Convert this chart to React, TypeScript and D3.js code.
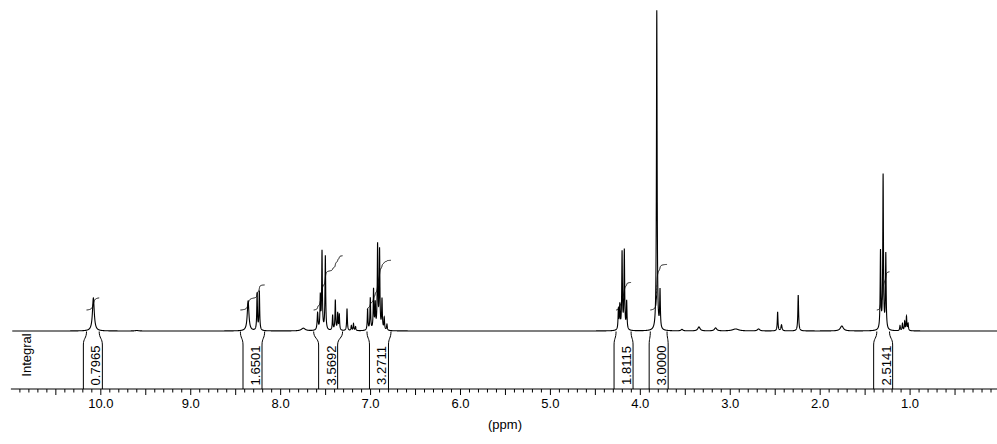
import React from "react";
import * as d3 from "d3";

// Peak list (ppm, relative height, half-width at half-height in ppm)
const peakPpm = [
  9.6,
  10.083,
  8.362, 8.262, 8.237,
  7.748,
  7.589, 7.559, 7.54, 7.503,
  7.422, 7.392, 7.366, 7.348,
  7.262,
  7.214, 7.19, 7.167,
  7.033, 7.003, 6.967, 6.948, 6.922, 6.9, 6.873, 6.848, 6.818,
  4.244, 4.228, 4.203, 4.178, 4.152,
  3.817, 3.781,
  3.537, 3.348, 3.163, 2.94, 2.685,
  2.473, 2.43, 2.244,
  1.759,
  1.329, 1.3, 1.27,
  1.112, 1.085, 1.06, 1.04, 1.022,
];
const peakHeight = [
  0.5,
  33,
  30, 37, 39,
  2.7,
  17, 33, 78, 74,
  15, 30, 17, 16,
  22,
  5, 7, 4,
  21, 32, 40, 25, 84, 79, 30, 12, 6,
  20, 24, 77, 79, 28,
  320, 38,
  1.5, 4, 3, 2, 2,
  19, 6, 36,
  5,
  78, 154, 75,
  5, 7, 9, 14, 7,
];
const peakHwhm = [
  0.02,
  0.012,
  0.011, 0.0045, 0.0045,
  0.025,
  0.006, 0.0045, 0.0045, 0.0045,
  0.0045, 0.0045, 0.0045, 0.0045,
  0.0045,
  0.0045, 0.0045, 0.0045,
  0.0045, 0.0045, 0.0045, 0.0045, 0.0045, 0.0045, 0.0045, 0.0045, 0.0045,
  0.0045, 0.0045, 0.0045, 0.0045, 0.0045,
  0.0045, 0.0045,
  0.012, 0.015, 0.015, 0.04, 0.015,
  0.0045, 0.007, 0.005,
  0.02,
  0.0045, 0.0045, 0.0045,
  0.0045, 0.0045, 0.0045, 0.0045, 0.0045,
];

// Integral regions
const integralStart = [10.159, 8.448, 7.633, 7.04, 4.27, 3.889, 1.37];
const integralEnd = [10.018, 8.178, 7.311, 6.773, 4.103, 3.703, 1.229];
const integralValues = [0.7965, 1.6501, 3.5692, 3.2711, 1.8115, 3.0, 2.5141];

// Axis
const tickValues = [10, 9, 8, 7, 6, 5, 4, 3, 2, 1];
const tickLabels = ["10.0", "9.0", "8.0", "7.0", "6.0", "5.0", "4.0", "3.0", "2.0", "1.0"];

const FONT = "'Liberation Sans', Arial, Helvetica, sans-serif";

function intensity(p: number): number {
  let s = 0;
  for (let i = 0; i < peakPpm.length; i++) {
    const d = (p - peakPpm[i]) / peakHwhm[i];
    s += peakHeight[i] / (1 + d * d);
  }
  return s;
}

export default function App() {
  const W = 997;
  const H = 444;
  const x = d3.scaleLinear().domain([11, 0]).range([10.9, 1000]);
  const y = d3.scaleLinear().domain([0, 321]).range([331, 10]);
  const yInt = d3.scaleLinear().domain([0, 1]).range([310, 294.8]);
  const axisY = 389;
  const leftPpm = 10.985;
  const rightPpm = 0.03;
  const step = 0.0005;

  const n = Math.round((leftPpm - rightPpm) / step);
  const spec: [number, number][] = [];
  for (let i = 0; i <= n; i++) {
    const p = leftPpm - i * step;
    spec.push([p, intensity(p)]);
  }
  const line = d3
    .line<[number, number]>()
    .x((d) => x(d[0]))
    .y((d) => y(d[1]));

  const integrals = integralStart.map((s, k) => {
    const e = integralEnd[k];
    const m = Math.round((s - e) / step);
    const vals: number[] = [];
    let cum = 0;
    const ps: number[] = [];
    for (let i = 0; i <= m; i++) {
      const p = s - i * step;
      cum += intensity(p);
      vals.push(cum);
      ps.push(p);
    }
    const total = cum;
    const pts: [number, number][] = ps.map((p, i) => [x(p), yInt((vals[i] / total) * integralValues[k])]);
    return d3.line()(pts) as string;
  });

  const minorTicks = d3.range(1, 110).map((i) => i / 10);

  return (
    <svg
      width={W}
      height={H}
      style={{ position: "absolute", left: 0, top: 0, background: "#fff" }}
      fontFamily={FONT}
    >
      <rect x={0} y={0} width={W} height={H} fill="#fff" />
      <path d={line(spec) as string} fill="none" stroke="#000" strokeWidth={1.1} />
      {integrals.map((d, k) => (
        <path key={"int" + k} d={d} fill="none" stroke="#000" strokeWidth={1} />
      ))}
      {integralStart.map((s, k) => {
        const x0L = x(s);
        const x0R = x(integralEnd[k]);
        const cx = (x0L + x0R) / 2;
        const x1L = cx - 9.5;
        const x1R = cx + 9.5;
        const top = 331.5;
        const mid = 345;
        return (
          <g key={"br" + k}>
            <path
              d={`M${x0L},${top} C${x0L},${top + 7} ${x1L},${mid - 7} ${x1L},${mid} L${x1L},${axisY}`}
              fill="none"
              stroke="#000"
              strokeWidth={1}
            />
            <path
              d={`M${x0R},${top} C${x0R},${top + 7} ${x1R},${mid - 7} ${x1R},${mid} L${x1R},${axisY}`}
              fill="none"
              stroke="#000"
              strokeWidth={1}
            />
            <text
              transform={`translate(${cx + 7.5},365.5) rotate(-90)`}
              textAnchor="middle"
              fontSize={13}
              fill="#000"
            >
              {integralValues[k].toFixed(4)}
            </text>
          </g>
        );
      })}
      <text transform="translate(31,355) rotate(-90)" textAnchor="middle" fontSize={13} fill="#000">
        Integral
      </text>
      <line x1={x(11)} x2={W} y1={axisY} y2={axisY} stroke="#000" strokeWidth={1} />
      {minorTicks.map((t, i) => {
        const major = Math.round(t * 10) % 5 === 0;
        return (
          <line
            key={"t" + i}
            x1={x(t)}
            x2={x(t)}
            y1={axisY}
            y2={axisY + (major ? 6 : 3.5)}
            stroke="#000"
            strokeWidth={1}
          />
        );
      })}
      {tickValues.map((t, i) => (
        <text key={"l" + i} x={x(t)} y={408} textAnchor="middle" fontSize={13} fill="#000">
          {tickLabels[i]}
        </text>
      ))}
      <text x={505} y={429} textAnchor="middle" fontSize={13} fill="#000">
        (ppm)
      </text>
    </svg>
  );
}
